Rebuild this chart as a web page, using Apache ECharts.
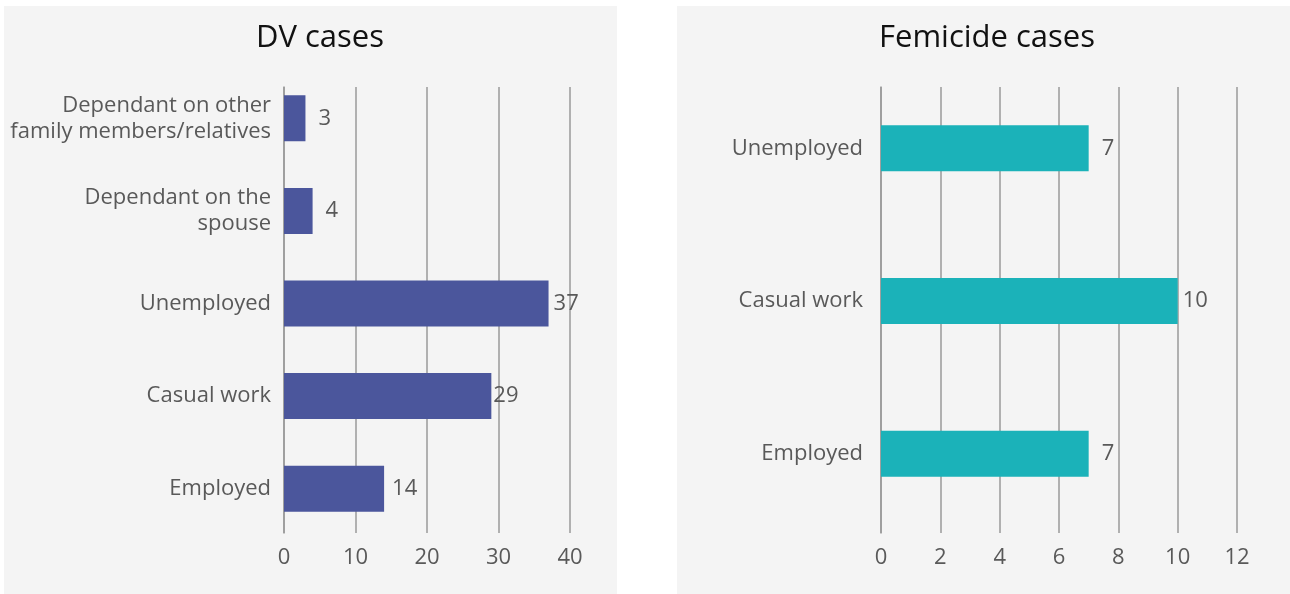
<!DOCTYPE html>
<html>
<head>
<meta charset="utf-8">
<script src="https://cdn.jsdelivr.net/npm/echarts@6/dist/echarts.min.js"></script>
<style>
html,body{margin:0;padding:0;background:#fff;}
#c{width:1290px;height:594px;}
</style>
</head>
<body>
<div id="c"></div>
<script>
const dvCategories = ["Dependant on other\nfamily members/relatives", "Dependant on the\nspouse", "Unemployed", "Casual work", "Employed"];
const dvValues = [3, 4, 37, 29, 14];
const femCategories = ["Unemployed", "Casual work", "Employed"];
const femValues = [7, 10, 7];
const dvTitle = "DV cases";
const femTitle = "Femicide cases";

// label gaps (style only), px from bar end
const dvLabelGap = [13, 13, 5, 2, 8];
const femLabelGap = [13, 5, 13];

const FONT = "'Open Sans', sans-serif";
const labelColor = "#595959";
const gridColor = "#9a9a9a";
const FS = 22;

function lineXAxis(grid, max, interval) {
  return {gridIndex: grid, type: 'value', min: 0, max: max, interval: interval,
    axisLine: {show: false}, axisTick: {show: false},
    splitLine: {show: true, lineStyle: {color: gridColor, width: 1.5}},
    axisLabel: {fontFamily: FONT, fontSize: FS, color: labelColor, margin: 14}};
}
function barXAxis(grid, max, interval) {
  return {gridIndex: grid, type: 'value', min: 0, max: max, interval: interval, show: false,
    splitLine: {show: false}};
}
function lineYAxis(grid) {
  return {gridIndex: grid, type: 'value', min: 0, max: 1,
    axisLine: {show: true, lineStyle: {color: gridColor, width: 1.5}},
    axisTick: {show: false}, axisLabel: {show: false}, splitLine: {show: false}};
}
function withGaps(values, gaps) {
  return values.map((v, i) => ({value: v, label: {distance: gaps[i]}}));
}

const chart = echarts.init(document.getElementById('c'), null, {renderer: 'canvas'});
chart.setOption({
  backgroundColor: '#ffffff',
  animation: false,
  graphic: [
    {type: 'rect', shape: {x: 4, y: 6, width: 613, height: 590}, style: {fill: '#f4f4f4'}, z: -10},
    {type: 'rect', shape: {x: 677, y: 6, width: 613, height: 590}, style: {fill: '#f4f4f4'}, z: -10}
  ],
  title: [
    {text: dvTitle, left: 315, top: 18, textAlign: 'center', textStyle: {fontFamily: FONT, fontSize: 31, fontWeight: 'normal', color: '#111'}},
    {text: femTitle, left: 982, top: 18, textAlign: 'center', textStyle: {fontFamily: FONT, fontSize: 31, fontWeight: 'normal', color: '#111'}}
  ],
  grid: [
    {left: 284, right: 720, top: 87, bottom: 61},
    {left: 284, right: 720, top: 72, bottom: 59},
    {left: 881, right: 53, top: 87, bottom: 61},
    {left: 881, right: 53, top: 72, bottom: 64}
  ],
  xAxis: [
    lineXAxis(0, 40, 10),
    barXAxis(1, 40, 10),
    lineXAxis(2, 12, 2),
    barXAxis(3, 12, 2)
  ],
  yAxis: [
    lineYAxis(0),
    {gridIndex: 1, type: 'category', data: dvCategories, inverse: true,
     axisLine: {show: false}, axisTick: {show: false}, splitLine: {show: false},
     axisLabel: {fontFamily: FONT, fontSize: FS, color: labelColor, margin: 13, lineHeight: 26, align: 'right', padding: [6, 0, 0, 0]}},
    lineYAxis(2),
    {gridIndex: 3, type: 'category', data: femCategories, inverse: true,
     axisLine: {show: false}, axisTick: {show: false}, splitLine: {show: false},
     axisLabel: {fontFamily: FONT, fontSize: FS, color: labelColor, margin: 18, align: 'right', padding: [6, 0, 0, 0]}}
  ],
  series: [
    {type: 'bar', xAxisIndex: 1, yAxisIndex: 1, data: withGaps(dvValues, dvLabelGap), barWidth: 46,
     itemStyle: {color: '#4b569c'},
     label: {show: true, position: 'right', fontFamily: FONT, fontSize: FS, color: labelColor}},
    {type: 'bar', xAxisIndex: 3, yAxisIndex: 3, data: withGaps(femValues, femLabelGap), barWidth: 46,
     itemStyle: {color: '#1bb2b9'},
     label: {show: true, position: 'right', fontFamily: FONT, fontSize: FS, color: labelColor}}
  ]
});
</script>
</body>
</html>
